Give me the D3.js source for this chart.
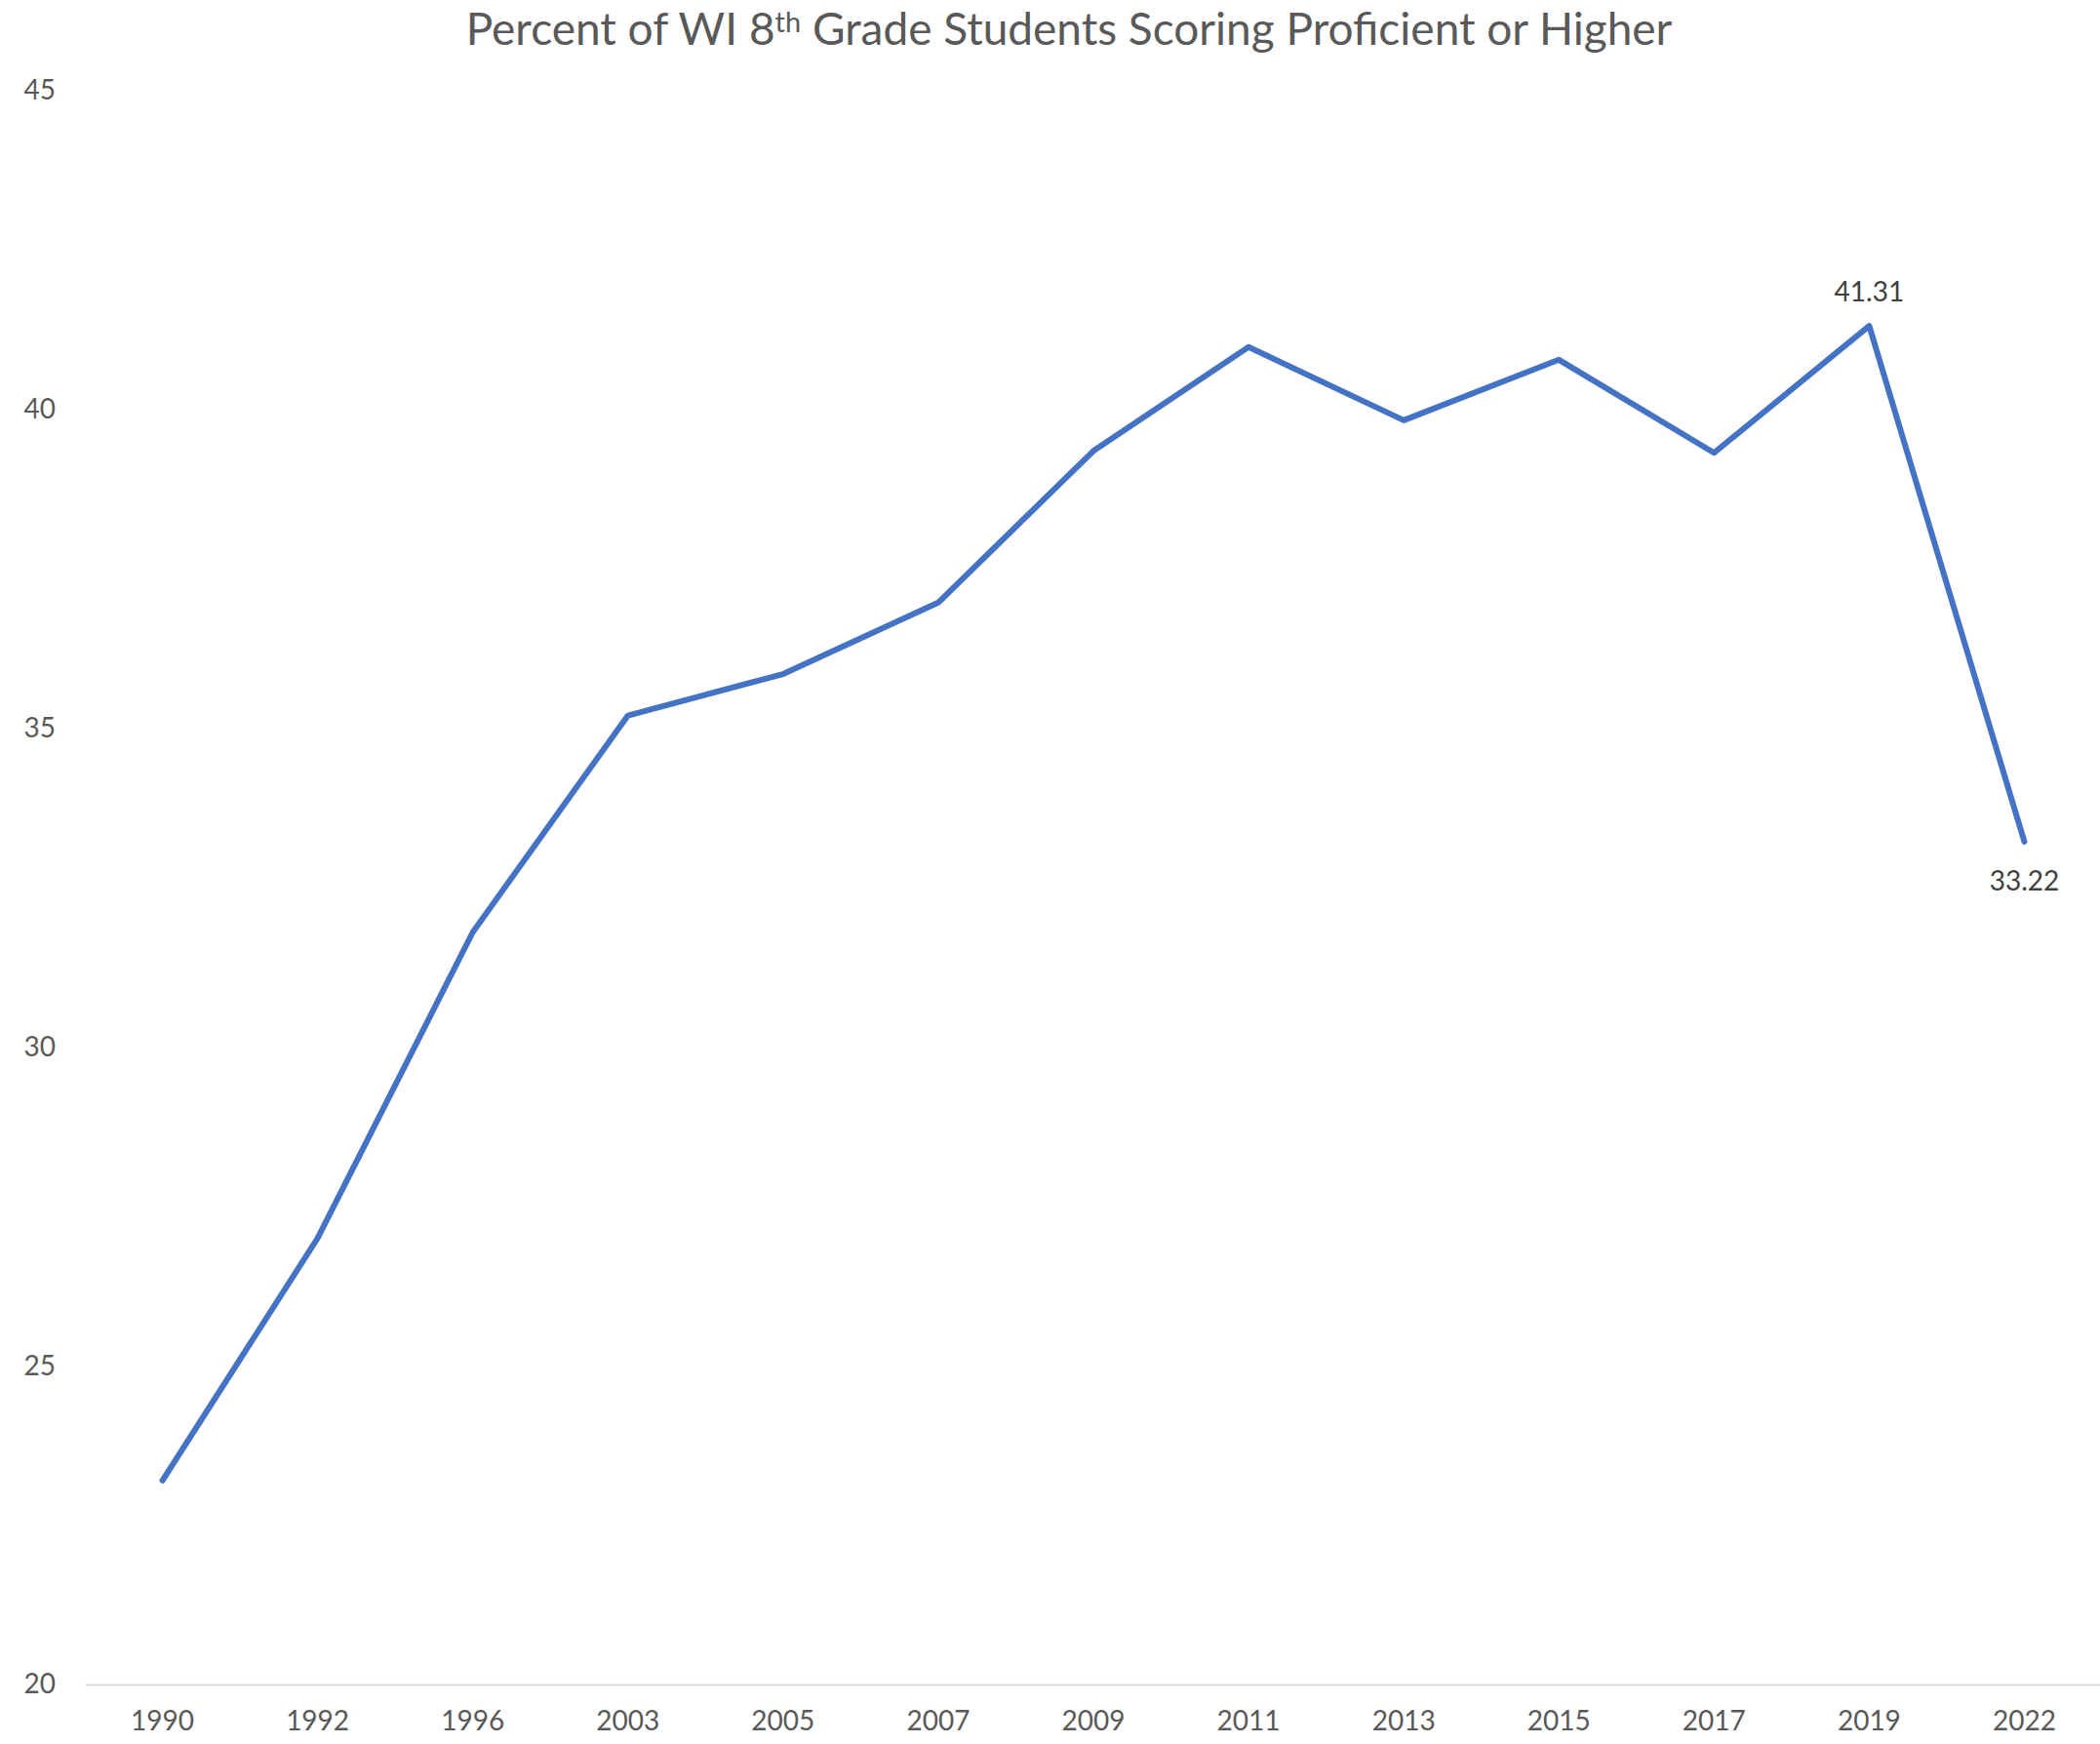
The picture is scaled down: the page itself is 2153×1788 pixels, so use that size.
<!DOCTYPE html>
<html>
<head>
<meta charset="utf-8">
<script src="https://cdn.jsdelivr.net/npm/d3@7"></script>
<style>
  body { margin: 0; background: #fff; }
  svg text { font-family: Lato, "Open Sans", sans-serif; }
</style>
</head>
<body>
<svg id="chart" width="2153" height="1788"></svg>
<script>
// data
var years = ["1990", "1992", "1996", "2003", "2005", "2007", "2009", "2011", "2013", "2015", "2017", "2019", "2022"];
var percents = [23.2, 27.0, 31.8, 35.2, 35.85, 36.97, 39.35, 40.98, 39.83, 40.78, 39.32, 41.31, 33.22];
var yTicks = [20, 25, 30, 35, 40, 45];
var labelled = ["2019", "2022"];

var svg = d3.select("#chart");

var x = d3.scaleBand().domain(years).range([87, 2155]);
var y = d3.scaleLinear().domain([20, 45]).range([1727, 93]);

// title
var title = svg.append("text")
    .attr("x", 1096)
    .attr("y", 46)
    .attr("text-anchor", "middle")
    .attr("fill", "#595959")
    .style("font-size", "46px")
    .style("font-weight", 400);
title.append("tspan").text("Percent of WI 8");
title.append("tspan").attr("dy", -13).style("font-size", "29px").text("th");
title.append("tspan").attr("dy", 13).text(" Grade Students Scoring Proficient or Higher");

// y axis labels (no gridlines)
var yAxis = svg.append("g")
    .attr("transform", "translate(57,0)")
    .call(d3.axisLeft(y).tickValues(yTicks).tickSize(0).tickPadding(0));
yAxis.select(".domain").remove();
yAxis.selectAll("text")
    .attr("fill", "#595959")
    .style("font-size", "28px");

// x axis
var xAxis = svg.append("g")
    .attr("transform", "translate(0," + y(20) + ")")
    .call(d3.axisBottom(x).tickSize(0).tickPadding(27));
xAxis.select(".domain").attr("stroke", "#d9d9d9").attr("stroke-width", 2);
xAxis.selectAll("text")
    .attr("fill", "#595959")
    .style("font-size", "28px");

// line
var line = d3.line()
    .x(function(d, i) { return x(years[i]) + x.bandwidth() / 2; })
    .y(function(d) { return y(d); });

svg.append("path")
    .datum(percents)
    .attr("d", line)
    .attr("fill", "none")
    .attr("stroke", "#4472C4")
    .attr("stroke-width", 6)
    .attr("stroke-linejoin", "round")
    .attr("stroke-linecap", "round");

// data labels
years.forEach(function(yr, i) {
    if (labelled.indexOf(yr) < 0) return;
    var above = yr == "2019";
    svg.append("text")
        .attr("x", x(yr) + x.bandwidth() / 2)
        .attr("y", y(percents[i]) + (above ? -25 : 50))
        .attr("text-anchor", "middle")
        .attr("fill", "#404040")
        .style("font-size", "28px")
        .text(percents[i].toFixed(2));
});
</script>
</body>
</html>
